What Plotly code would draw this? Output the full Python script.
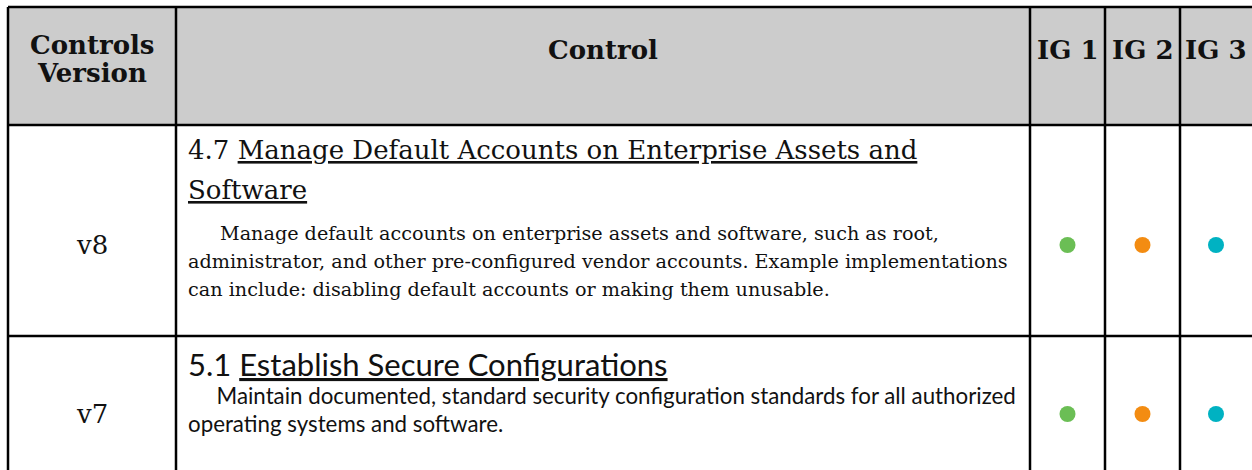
import plotly.graph_objects as go

# ---- data ----
header_version = ["Controls", "Version"]
header_labels = ["Control", "IG 1", "IG 2", "IG 3"]
versions = ["v8", "v7"]
control_ids = ["4.7", "5.1"]
control_titles = [
    ["Manage Default Accounts on Enterprise Assets and", "Software"],
    ["Establish Secure Configurations"],
]
descriptions = [
    ["Manage default accounts on enterprise assets and software, such as root,",
     "administrator, and other pre-configured vendor accounts. Example implementations",
     "can include: disabling default accounts or making them unusable."],
    ["Maintain documented, standard security configuration standards for all authorized",
     "operating systems and software."],
]
ig_flags = [[1, 1, 1], [1, 1, 1]]
ig_colors = ["#6BBE55", "#F38C12", "#00B2C2"]

# ---- layout geometry ----
W, H = 1252, 470
col_edges = [8, 176, 1030, 1105, 1180, 1254]
row_edges = [7, 125, 336, 480]
mid_y = [245, 414]
INK = "#111111"

fig = go.Figure()
shapes = []
shapes.append(dict(type="rect", x0=col_edges[0], x1=1262, y0=row_edges[0], y1=row_edges[1],
                   fillcolor="#CCCCCC", line=dict(width=0), layer="below"))
for y in row_edges[:3]:
    shapes.append(dict(type="line", x0=col_edges[0], x1=1262, y0=y, y1=y,
                       line=dict(color="black", width=2.5)))
for x in col_edges[:5]:
    shapes.append(dict(type="line", x0=x, x1=x, y0=row_edges[0], y1=row_edges[-1],
                       line=dict(color="black", width=2.5)))

ann = []
hdr_font = dict(family="DejaVu Serif", size=26, color=INK)
for t, yy in zip(header_version, [45, 73]):
    ann.append(dict(x=(col_edges[0] + col_edges[1]) / 2, y=yy, text="<b>" + t + "</b>",
                    showarrow=False, font=hdr_font, xanchor="center", yanchor="middle"))
for i in range(4):
    ann.append(dict(x=(col_edges[i + 1] + col_edges[i + 2]) / 2 if i < 3 else 1216, y=50,
                    text="<b>" + header_labels[i] + "</b>", showarrow=False, font=hdr_font,
                    xanchor="center", yanchor="middle"))

for r in range(2):
    ann.append(dict(x=(col_edges[0] + col_edges[1]) / 2, y=mid_y[r], text=versions[r], showarrow=False,
                    font=dict(family="DejaVu Serif", size=26, color=INK),
                    xanchor="center", yanchor="middle"))

# row 1 (serif): separate lines
x_text = col_edges[1] + 10
r1_title_y = [150, 190]
r1_desc_y = [233, 261, 289]
for k, line in enumerate(control_titles[0]):
    txt = ("%s <u>%s</u>" % (control_ids[0], line)) if k == 0 else "<u>%s</u>" % line
    ann.append(dict(x=x_text, y=r1_title_y[k], text=txt, showarrow=False,
                    font=dict(family="DejaVu Serif", size=26, color=INK),
                    xanchor="left", yanchor="middle"))
for k, line in enumerate(descriptions[0]):
    ann.append(dict(x=x_text + (32 if k == 0 else 0), y=r1_desc_y[k], text=line, showarrow=False,
                    font=dict(family="DejaVu Serif", size=19.2, color=INK),
                    xanchor="left", yanchor="middle"))

# row 2 (sans): one multi-line block
indent = "\u00a0" * 5
ds = "<span style='font-size:22.3px'>%s</span>"
block = ("<span style='font-size:31px'>%s <u>%s</u></span><br>" % (control_ids[1], control_titles[1][0])
         + ds % (indent + descriptions[1][0]) + "<br>" + ds % descriptions[1][1])
ann.append(dict(x=x_text, y=391, text=block, showarrow=False, align="left",
                font=dict(family="Lato", size=21.5, color=INK),
                xanchor="left", yanchor="middle"))

for j in range(3):
    xs, ys = [], []
    for r in range(2):
        if ig_flags[r][j]:
            xs.append((col_edges[2 + j] + col_edges[3 + j]) / 2 if j < 2 else 1216)
            ys.append(mid_y[r])
    fig.add_trace(go.Scatter(x=xs, y=ys, mode="markers",
                             marker=dict(size=16, color=ig_colors[j], line=dict(width=0)),
                             hoverinfo="skip", showlegend=False))

fig.update_layout(
    width=W, height=H, margin=dict(l=0, r=0, t=0, b=0),
    paper_bgcolor="white", plot_bgcolor="white",
    xaxis=dict(range=[0, W], visible=False, fixedrange=True),
    yaxis=dict(range=[H, 0], visible=False, fixedrange=True),
    shapes=shapes, annotations=ann, showlegend=False,
)
fig.write_html("out.html", config={"displayModeBar": False},
               post_script="document.body.style.margin='0';document.body.style.overflow='hidden';")
